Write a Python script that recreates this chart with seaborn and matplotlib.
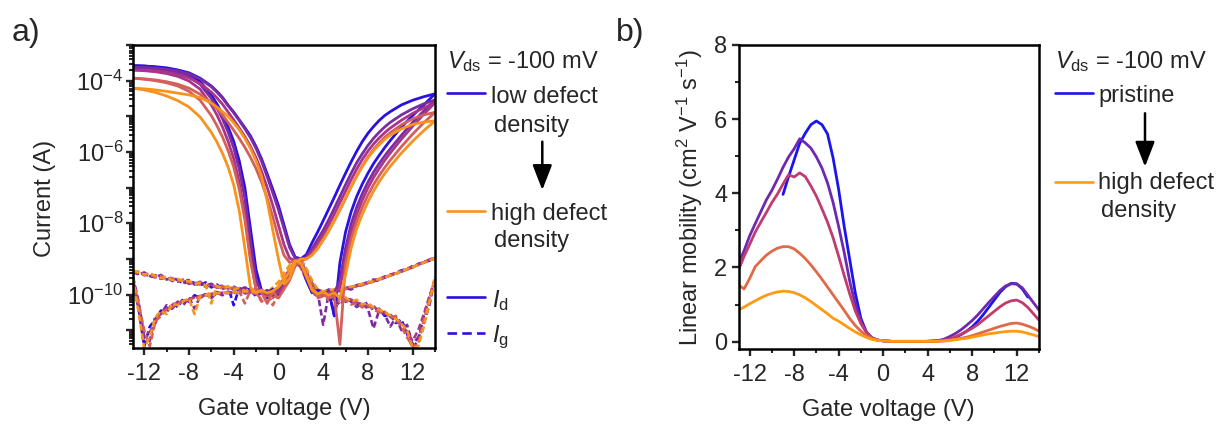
import numpy as np
import matplotlib
matplotlib.use("Agg")
import matplotlib.pyplot as plt
import seaborn as sns
from matplotlib.lines import Line2D
from matplotlib.ticker import LogLocator, FuncFormatter, MultipleLocator, NullFormatter

# ---------------- data ----------------
# gate voltage grid for drain current (log10 of A)
vg_id = [-13, -12, -11, -10, -9, -8, -7, -6, -5.5, -5, -4.5, -4, -3.5, -3, -2.5, -2,
         -1.5, -1, -0.5, 0, 0.5, 1, 1.5, 2, 2.5, 3, 3.5, 4, 4.5, 5,
         5.5, 6, 6.5, 7, 7.5, 8, 8.5, 9, 9.5, 10, 11, 12, 13, 14]

# sweep with steep threshold (log10 Id)
id_sweep_a_1 = [-3.58, -3.59, -3.62, -3.66, -3.72, -3.83, -4.02, -4.40, -4.65, -4.95, -5.30, -5.70, -6.25, -7.00, -8.15, -9.30,
                -9.90, -9.95, -9.85, -10.05, -9.80, -9.55, -9.15, -9.10, -9.60, -9.95, -9.88, -10.00, -9.92, -10.60,
                -9.10, -8.25, -7.68, -7.25, -6.90, -6.60, -6.33, -6.10, -5.88, -5.68, -5.30, -4.98, -4.68, -4.37]
id_sweep_a_2 = [-3.63, -3.64, -3.67, -3.71, -3.78, -3.90, -4.10, -4.50, -4.76, -5.07, -5.44, -5.88, -6.48, -7.30, -8.50, -9.60,
                -9.95, -9.88, -10.02, -9.90, -9.72, -9.45, -9.10, -9.18, -9.55, -9.90, -10.05, -9.94, -10.08, -9.95,
                -9.60, -8.70, -8.02, -7.55, -7.17, -6.85, -6.57, -6.33, -6.11, -5.91, -5.53, -5.17, -4.85, -4.54]
id_sweep_a_3 = [-3.70, -3.72, -3.75, -3.80, -3.88, -4.01, -4.24, -4.68, -4.96, -5.30, -5.70, -6.18, -6.85, -7.75, -8.95, -9.85,
                -9.92, -10.00, -9.90, -9.96, -9.75, -9.50, -9.12, -9.20, -9.50, -9.85, -9.96, -10.02, -9.94, -10.00,
                -9.80, -9.00, -8.25, -7.75, -7.35, -7.01, -6.72, -6.47, -6.24, -6.03, -5.64, -5.28, -4.94, -4.62]
id_sweep_a_4 = [-3.93, -3.96, -4.00, -4.06, -4.15, -4.30, -4.55, -4.98, -5.26, -5.58, -5.96, -6.42, -7.05, -7.90, -9.05, -9.85,
                -9.95, -10.25, -9.92, -10.10, -9.85, -9.60, -9.20, -9.10, -9.45, -9.88, -10.05, -9.98, -10.10, -10.05,
                -11.40, -9.15, -8.45, -7.95, -7.55, -7.21, -6.92, -6.67, -6.44, -6.23, -5.85, -5.50, -5.18, -4.89]
id_sweep_a_5 = [-4.21, -4.26, -4.33, -4.43, -4.56, -4.74, -5.02, -5.45, -5.72, -6.04, -6.42, -6.92, -7.65, -8.70, -9.80, -9.95,
                -9.88, -9.96, -9.90, -9.78, -9.60, -9.35, -9.05, -9.12, -9.48, -9.85, -9.98, -9.92, -10.02, -9.95,
                -10.10, -9.45, -8.70, -8.15, -7.75, -7.40, -7.10, -6.84, -6.61, -6.40, -6.03, -5.70, -5.40, -5.13]

# sweep with gradual (V-shaped) behaviour (log10 Id)
id_sweep_b_1 = [-3.58, -3.59, -3.61, -3.64, -3.70, -3.78, -3.93, -4.15, -4.30, -4.47, -4.69, -4.88, -5.10, -5.32, -5.55, -5.85,
                -6.20, -6.62, -7.05, -7.50, -8.05, -8.60, -8.95, -9.00, -8.88, -8.55, -8.25, -7.93, -7.60, -7.27,
                -6.93, -6.60, -6.28, -5.98, -5.71, -5.48, -5.29, -5.12, -4.98, -4.87, -4.68, -4.55, -4.45, -4.37]
id_sweep_b_2 = [-3.62, -3.63, -3.65, -3.68, -3.73, -3.81, -3.95, -4.17, -4.32, -4.49, -4.70, -4.90, -5.12, -5.35, -5.60, -5.90,
                -6.27, -6.70, -7.15, -7.62, -8.15, -8.68, -8.98, -9.02, -8.95, -8.72, -8.46, -8.20, -7.90, -7.58,
                -7.25, -6.92, -6.60, -6.30, -6.05, -5.82, -5.62, -5.45, -5.30, -5.17, -4.96, -4.79, -4.65, -4.54]
id_sweep_b_3 = [-3.70, -3.71, -3.73, -3.77, -3.83, -3.92, -4.08, -4.32, -4.48, -4.66, -4.88, -5.10, -5.33, -5.57, -5.84, -6.16,
                -6.55, -7.00, -7.50, -8.05, -8.60, -8.98, -9.05, -9.03, -8.98, -8.80, -8.57, -8.32, -8.04, -7.74,
                -7.42, -7.10, -6.78, -6.48, -6.21, -5.98, -5.78, -5.61, -5.46, -5.33, -5.11, -4.92, -4.76, -4.62]
id_sweep_b_4 = [-3.93, -3.95, -3.98, -4.03, -4.10, -4.21, -4.38, -4.62, -4.78, -4.96, -5.17, -5.39, -5.62, -5.87, -6.15, -6.47,
                -6.85, -7.30, -7.82, -8.40, -8.90, -9.10, -9.05, -9.05, -9.00, -8.88, -8.68, -8.45, -8.20, -7.92,
                -7.62, -7.30, -6.98, -6.67, -6.39, -6.14, -5.93, -5.75, -5.59, -5.46, -5.24, -5.07, -4.96, -4.89]
id_sweep_b_5 = [-4.21, -4.23, -4.26, -4.30, -4.35, -4.40, -4.47, -4.63, -4.74, -4.87, -5.00, -5.18, -5.38, -5.62, -5.90, -6.25,
                -6.70, -7.38, -8.20, -9.00, -9.70, -9.55, -9.10, -9.00, -9.00, -8.90, -8.72, -8.48, -8.22, -7.93,
                -7.62, -7.30, -6.98, -6.68, -6.41, -6.17, -5.97, -5.80, -5.65, -5.53, -5.35, -5.23, -5.16, -5.13]

# gate voltage grid for gate leakage and mobility
vg_fine = [-13, -12.5, -12, -11.5, -11, -10.5, -10, -9.5, -9, -8.5, -8, -7.5, -7, -6.5, -6, -5.5,
           -5, -4.5, -4, -3.5, -3, -2.5, -2, -1.5, -1, -0.5, 0, 0.5, 1, 1.5, 2, 2.5,
           3, 3.5, 4, 4.5, 5, 5.5, 6, 6.5, 7, 7.5, 8, 8.5, 9, 9.5, 10, 10.5,
           11, 11.5, 12, 12.5, 13, 13.5, 14]

# gate leakage current (log10 of A), two sweeps per device
ig_sweep_a_1 = [-9.38, -9.42, -9.40, -9.50, -9.46, -9.55, -9.50, -9.62, -9.58, -9.70, -9.60, -9.68, -9.75, -9.66, -9.80, -9.72,
                -9.85, -9.78, -10.30, -9.82, -9.88, -9.84, -9.95, -9.88, -9.96, -9.85, -9.90, -9.62, -9.40, -9.12, -9.20, -9.50,
                -9.80, -9.95, -10.02, -9.98, -10.15, -10.05, -10.20, -10.12, -10.25, -10.30, -10.22, -10.45, -10.40, -10.60, -10.55, -10.80,
                -10.70, -11.10, -11.50, -11.30, -10.60, -10.10, -9.60]
ig_sweep_b_1 = [-9.60, -10.40, -11.45, -10.90, -10.70, -10.45, -10.50, -10.25, -10.35, -10.12, -10.20, -10.02, -10.10, -9.98, -10.05, -9.93,
                -10.00, -9.92, -9.96, -9.90, -9.95, -9.88, -10.05, -9.95, -10.10, -9.98, -9.88, -9.66, -9.38, -9.15, -9.05, -9.40,
                -9.72, -9.90, -9.95, -9.86, -10.60, -9.85, -9.80, -9.84, -9.74, -9.70, -9.66, -9.58, -9.62, -9.50, -9.46, -9.40,
                -9.32, -9.30, -9.20, -9.16, -9.08, -9.05, -8.98]
ig_sweep_a_2 = [-9.33, -9.45, -9.38, -9.48, -9.52, -9.45, -9.58, -9.52, -9.60, -9.66, -9.58, -9.72, -9.65, -9.74, -9.70, -9.80,
                -9.74, -9.83, -9.78, -9.86, -9.80, -9.90, -9.86, -9.94, -9.90, -10.05, -9.78, -9.55, -9.30, -9.08, -9.18, -9.55,
                -9.82, -9.92, -10.85, -9.96, -10.12, -10.30, -10.10, -10.20, -10.35, -10.25, -10.40, -10.95, -10.45, -10.55, -10.90, -10.65,
                -11.00, -10.85, -11.40, -11.20, -10.80, -10.30, -9.52]
ig_sweep_b_2 = [-9.50, -10.20, -11.20, -11.30, -10.60, -10.55, -10.30, -10.40, -10.20, -10.30, -10.08, -10.40, -10.05, -10.00, -10.10, -9.95,
                -10.02, -9.94, -9.98, -9.92, -9.97, -9.93, -10.00, -9.96, -9.98, -10.05, -9.82, -9.60, -9.42, -9.18, -9.02, -9.30,
                -9.65, -9.88, -9.94, -9.90, -9.87, -9.90, -9.82, -9.86, -9.76, -9.72, -9.68, -9.62, -9.57, -9.53, -9.45, -9.41,
                -9.36, -9.28, -9.24, -9.14, -9.10, -9.02, -8.96]
ig_sweep_a_3 = [-9.40, -9.36, -9.46, -9.44, -9.50, -9.56, -9.52, -9.60, -9.64, -9.60, -9.70, -9.66, -9.72, -9.78, -9.74, -9.80,
                -9.84, -9.79, -9.86, -9.84, -9.90, -9.87, -9.92, -9.90, -9.98, -9.92, -9.85, -9.58, -9.28, -9.10, -9.22, -9.48,
                -9.78, -9.96, -10.00, -10.06, -10.02, -10.12, -10.18, -10.14, -10.22, -10.28, -10.35, -10.32, -10.48, -10.50, -10.62, -10.75,
                -10.85, -11.05, -11.30, -11.00, -10.55, -10.05, -9.58]
ig_sweep_b_3 = [-9.62, -10.35, -11.10, -11.05, -10.80, -10.48, -10.40, -10.30, -10.22, -10.18, -10.12, -10.08, -10.04, -10.02, -9.98, -9.97,
                -9.95, -9.96, -9.93, -9.95, -9.92, -9.94, -9.96, -9.93, -10.02, -9.96, -9.86, -9.64, -9.45, -9.12, -9.08, -9.38,
                -9.68, -9.86, -9.92, -9.88, -9.86, -9.84, -9.83, -9.78, -9.76, -9.70, -9.67, -9.60, -9.56, -9.50, -9.44, -9.40,
                -9.34, -9.27, -9.22, -9.15, -9.10, -9.03, -8.98]
ig_sweep_a_4 = [-9.36, -9.40, -9.44, -9.42, -9.52, -9.48, -9.56, -9.54, -9.62, -9.58, -9.65, -9.70, -9.64, -9.75, -9.72, -9.80,
                -9.76, -9.84, -9.80, -9.90, -10.25, -9.88, -9.95, -10.15, -9.92, -10.30, -9.95, -9.70, -9.35, -9.06, -9.25, -9.60,
                -9.90, -10.10, -10.05, -10.15, -10.10, -10.22, -10.16, -10.28, -10.24, -10.36, -10.30, -10.42, -10.50, -10.48, -10.65, -10.60,
                -10.90, -11.20, -11.45, -11.40, -10.70, -10.15, -9.55]
ig_sweep_b_4 = [-9.58, -10.25, -11.00, -11.45, -10.75, -10.60, -10.42, -10.35, -10.25, -10.20, -10.15, -10.10, -10.06, -10.02, -10.00, -9.97,
                -9.96, -9.95, -9.94, -9.96, -9.93, -9.95, -9.97, -10.20, -10.00, -10.10, -9.90, -9.70, -9.48, -9.20, -9.10, -9.42,
                -9.72, -9.90, -9.96, -9.92, -9.90, -9.86, -9.85, -9.80, -9.77, -9.74, -9.68, -9.64, -9.58, -9.52, -9.47, -9.42,
                -9.35, -9.30, -9.23, -9.17, -9.11, -9.05, -8.99]
ig_sweep_a_5 = [-9.32, -9.38, -9.44, -9.40, -9.48, -9.54, -9.50, -9.60, -9.56, -9.64, -9.62, -9.70, -9.68, -9.74, -10.25, -9.76,
                -9.82, -9.78, -9.85, -9.82, -9.90, -9.86, -9.92, -9.88, -9.95, -9.80, -9.65, -9.40, -9.18, -9.00, -9.25, -9.55,
                -9.85, -9.98, -9.95, -10.05, -10.00, -10.12, -10.08, -10.20, -10.15, -10.28, -10.24, -10.36, -10.42, -10.50, -10.58, -10.68,
                -10.82, -11.00, -11.50, -11.45, -10.90, -10.20, -9.50]
ig_sweep_b_5 = [-9.52, -10.50, -11.50, -11.20, -10.65, -10.45, -10.55, -10.25, -10.30, -10.18, -10.12, -10.55, -10.05, -10.02, -9.98, -9.96,
                -9.94, -9.95, -9.92, -9.94, -9.90, -9.92, -9.94, -9.90, -9.96, -9.92, -9.80, -9.55, -9.30, -9.08, -9.00, -9.28,
                -9.60, -9.85, -9.92, -9.88, -9.86, -9.84, -9.80, -9.78, -9.74, -9.70, -9.66, -9.62, -9.56, -9.52, -9.46, -9.41,
                -9.35, -9.29, -9.23, -9.17, -9.10, -9.04, -8.97]

# linear mobility (cm2 V-1 s-1)
nan = float("nan")
mu_pristine = [nan, nan, nan, nan, nan, nan, nan, nan,
               3.97, 4.45, 4.90, 5.35, 5.62, 5.85, 5.95, 5.85, 5.60, 4.95, 4.10, 3.10, 2.20, 1.30, 0.62, 0.25, 0.09, 0.04, 0.02, 0.01,
               0.0, 0.0, 0.0, 0.0, 0.0, 0.0, 0.005, 0.01, 0.02,
               0.03, 0.06, 0.11, 0.19, 0.28, 0.40, 0.55, 0.73, 0.93, 1.13, 1.33, 1.48, 1.57, 1.56, 1.42, 1.20,
               nan, nan]
mu_defect_1 = [2.11, 2.45, 2.85, 3.18, 3.50, 3.82, 4.08, 4.38, 4.70, 4.98, 5.20, 5.47, 5.36, 5.22, 4.98, 4.68, 4.28, 3.75, 3.10, 2.40,
               1.62, 1.00, 0.55, 0.25, 0.10, 0.04, 0.02, 0.01,
               0.0, 0.0, 0.0, 0.0, 0.0, 0.0, 0.01, 0.02,
               0.03, 0.07, 0.14, 0.22, 0.32, 0.44, 0.57, 0.72, 0.89, 1.06, 1.22, 1.38, 1.50, 1.56, 1.55, 1.45, 1.25, 1.05, 0.85]
mu_defect_2 = [1.93, 2.30, 2.62, 2.95, 3.22, 3.48, 3.75, 3.98, 4.25, 4.50, 4.44, 4.55, 4.45, 4.20, 3.92, 3.58, 3.22, 2.80, 2.30, 1.78,
               1.28, 0.82, 0.48, 0.24, 0.10, 0.04, 0.02, 0.01,
               0.0, 0.0, 0.0, 0.0, 0.0, 0.0, 0.005, 0.01,
               0.02, 0.04, 0.08, 0.13, 0.20, 0.28, 0.36, 0.46, 0.58, 0.70, 0.82, 0.94, 1.04, 1.10, 1.12, 1.05, 0.92, 0.75, 0.58]
mu_defect_3 = [1.53, 1.42, 1.70, 2.02, 2.18, 2.33, 2.44, 2.52, 2.56, 2.56, 2.50, 2.38, 2.24, 2.07, 1.88, 1.68, 1.47, 1.26, 1.05, 0.84,
               0.62, 0.43, 0.28, 0.16, 0.08, 0.04, 0.02, 0.01,
               0.0, 0.0, 0.0, 0.0, 0.0, 0.0, 0.0, 0.005,
               0.01, 0.02, 0.04, 0.06, 0.09, 0.12, 0.16, 0.21, 0.26, 0.31, 0.36, 0.41, 0.45, 0.49, 0.50, 0.47, 0.42, 0.36, 0.28]
mu_defect_4 = [0.85, 0.93, 1.02, 1.10, 1.18, 1.25, 1.30, 1.34, 1.36, 1.35, 1.32, 1.26, 1.18, 1.08, 0.97, 0.86, 0.75, 0.63, 0.55, 0.45,
               0.35, 0.26, 0.18, 0.11, 0.06, 0.03, 0.02, 0.01,
               0.01, 0.01, 0.01, 0.01, 0.01, 0.01, 0.01, 0.01,
               0.01, 0.02, 0.03, 0.05, 0.07, 0.09, 0.12, 0.15, 0.18, 0.21, 0.23, 0.25, 0.27, 0.28, 0.28, 0.26, 0.22, 0.18, 0.13]

x_ticks = [-12, -8, -4, 0, 4, 8, 12]
mu_ticks = [0, 2, 4, 6, 8]

colors_a = ["#2b10e2", "#7b2ca2", "#a8358a", "#d3605c", "#f7931e"]
colors_b = ["#1c14f0", "#6e29b0", "#c13b70", "#e06a48", "#ff9a12"]

# ---------------- style ----------------
sns.set_style("ticks")
plt.rcParams.update({
    "font.size": 17,
    "axes.linewidth": 1.8,
    "xtick.major.width": 1.7, "ytick.major.width": 1.7,
    "xtick.minor.width": 1.5, "ytick.minor.width": 1.5,
    "xtick.major.size": 5, "ytick.major.size": 5,
    "xtick.minor.size": 3, "ytick.minor.size": 3,
    "xtick.direction": "out", "ytick.direction": "out",
    "xtick.labelsize": 17, "ytick.labelsize": 17,
    "mathtext.fontset": "custom",
    "mathtext.rm": "Liberation Sans",
    "mathtext.it": "Liberation Sans:italic",
    "mathtext.default": "regular",
    "axes.edgecolor": "black",
})
plt.rcParams["font.family"] = ["Liberation Sans", "DejaVu Sans"]

W, H = 1222, 426
fig = plt.figure(figsize=(W / 100, H / 100), dpi=100)


def fx(x):
    return x / W


def fy(y):
    return 1 - y / H


axa = fig.add_axes([fx(133), fy(348), (435 - 133) / W, (348 - 45) / H])
axb = fig.add_axes([fx(738.5), fy(349), (1039 - 738.5) / W, (349 - 45) / H])

vg_id_arr = np.array(vg_id)
vg_f = np.array(vg_fine)
sweeps_a = [id_sweep_a_1, id_sweep_a_2, id_sweep_a_3, id_sweep_a_4, id_sweep_a_5]
sweeps_b = [id_sweep_b_1, id_sweep_b_2, id_sweep_b_3, id_sweep_b_4, id_sweep_b_5]
gates_a = [ig_sweep_a_1, ig_sweep_a_2, ig_sweep_a_3, ig_sweep_a_4, ig_sweep_a_5]
gates_b = [ig_sweep_b_1, ig_sweep_b_2, ig_sweep_b_3, ig_sweep_b_4, ig_sweep_b_5]

# ---------------- panel a ----------------
for k in range(5):
    c = colors_a[k]
    for g in (gates_a[k], gates_b[k]):
        sns.lineplot(x=vg_f, y=10.0 ** np.array(g), ax=axa, color=c, lw=1.9,
                     linestyle=(0, (2.4, 1.2)), sort=False, estimator=None)
for k in range(5):
    c = colors_a[k]
    for s in (sweeps_a[k], sweeps_b[k]):
        sns.lineplot(x=vg_id_arr, y=10.0 ** np.array(s), ax=axa, color=c, lw=2.0,
                     sort=False, estimator=None)

axa.set_yscale("log")
axa.set_xlim(-13, 14)
axa.set_ylim(10 ** -11.5, 1e-3)
axa.set_xticks(x_ticks)
axa.set_xticklabels([str(v) for v in x_ticks])
axa.xaxis.set_minor_locator(MultipleLocator(2))
axa.yaxis.set_major_locator(LogLocator(base=10, numticks=30))
axa.yaxis.set_minor_locator(LogLocator(base=10, subs=np.arange(2, 10), numticks=30))
axa.yaxis.set_minor_formatter(NullFormatter())


def log_fmt(v, pos):
    e = int(round(np.log10(v)))
    return r"$10^{%d}$" % e if e % 2 == 0 else ""


axa.yaxis.set_major_formatter(FuncFormatter(log_fmt))
axa.set_xlabel("Gate voltage (V)", fontsize=17)
axa.set_ylabel("Current (A)", fontsize=17)
axa.xaxis.set_label_coords(0.5, -0.165)
axa.yaxis.set_label_coords(-0.255, 0.493)
axa.tick_params(axis="both", which="both", top=False, right=False)
axa.tick_params(axis="y", which="major", pad=2)
axa.tick_params(axis="x", which="major", pad=6)

# ---------------- panel b ----------------
mus = [mu_pristine, mu_defect_1, mu_defect_2, mu_defect_3, mu_defect_4]
for k in range(5):
    sns.lineplot(x=vg_f, y=np.array(mus[k]), ax=axb, color=colors_b[k], lw=2.0,
                 sort=False, estimator=None)
axb.set_xlim(-13, 14)
axb.set_ylim(-0.2, 8)
axb.set_xticks(x_ticks)
axb.set_xticklabels([str(v) for v in x_ticks])
axb.xaxis.set_minor_locator(MultipleLocator(2))
axb.set_yticks(mu_ticks)
axb.set_yticklabels([str(v) for v in mu_ticks])
axb.yaxis.set_minor_locator(MultipleLocator(1))
axb.set_xlabel("Gate voltage (V)", fontsize=17)
axb.set_ylabel(r"Linear mobility (cm$^{2}$ V$^{-1}$ s$^{-1}$)", fontsize=17)
axb.xaxis.set_label_coords(0.5, -0.165)
axb.yaxis.set_label_coords(-0.11, 0.497)
axb.tick_params(axis="both", which="both", top=False, right=False)
axb.tick_params(axis="y", which="major", pad=3)
axb.tick_params(axis="x", which="major", pad=6)

for ax in (axa, axb):
    for sp in ax.spines.values():
        sp.set_visible(True)
        sp.set_linewidth(1.8)

# ---------------- legends / annotations ----------------
fs = 17
fig.text(fx(12), fy(41), "a)", fontsize=23, va="baseline", ha="left")
fig.text(fx(616), fy(41), "b)", fontsize=23, va="baseline", ha="left")

# panel a legend
fig.text(fx(447), fy(68.3), r"$\mathit{V}_{\mathrm{ds}}$ = -100 mV", fontsize=fs, va="baseline", ha="left")
fig.add_artist(Line2D([fx(447), fx(485)], [fy(93.3), fy(93.3)], color=colors_a[0], lw=1.9))
fig.text(fx(491), fy(102.7), "low defect", fontsize=fs, va="baseline", ha="left")
fig.text(fx(494), fy(131.7), "density", fontsize=fs, va="baseline", ha="left")
fig.add_artist(Line2D([fx(447), fx(485)], [fy(211), fy(211)], color=colors_a[4], lw=1.9))
fig.text(fx(491), fy(220), "high defect", fontsize=fs, va="baseline", ha="left")
fig.text(fx(494), fy(247), "density", fontsize=fs, va="baseline", ha="left")
fig.add_artist(Line2D([fx(447), fx(485)], [fy(297.3), fy(297.3)], color=colors_a[0], lw=1.9))
fig.text(fx(492), fy(307), r"$\mathit{I}_{\mathrm{d}}$", fontsize=fs, va="baseline", ha="left")
fig.add_artist(Line2D([fx(447), fx(485)], [fy(332.7), fy(332.7)], color=colors_a[0], lw=1.9,
                      linestyle=(0, (3.6, 2.0))))
fig.text(fx(492), fy(342), r"$\mathit{I}_{\mathrm{g}}$", fontsize=fs, va="baseline", ha="left")
axa.annotate("", xy=(fx(542.3), fy(190)), xytext=(fx(542.3), fy(141.7)),
             xycoords="figure fraction", textcoords="figure fraction",
             arrowprops=dict(arrowstyle="-|>,head_length=0.9,head_width=0.35", lw=1.8, color="black",
                             shrinkA=0, shrinkB=0),
             annotation_clip=False)

# panel b legend
fig.text(fx(1055), fy(68.3), r"$\mathit{V}_{\mathrm{ds}}$ = -100 mV", fontsize=fs, va="baseline", ha="left")
fig.add_artist(Line2D([fx(1055), fx(1092.7)], [fy(92.7), fy(92.7)], color=colors_b[0], lw=1.9))
fig.text(fx(1098), fy(101.7), "pristine", fontsize=fs, va="baseline", ha="left")
fig.add_artist(Line2D([fx(1055), fx(1092.7)], [fy(181.7), fy(181.7)], color=colors_b[4], lw=1.9))
fig.text(fx(1098), fy(188.5), "high defect", fontsize=fs, va="baseline", ha="left")
fig.text(fx(1101), fy(216.7), "density", fontsize=fs, va="baseline", ha="left")
axb.annotate("", xy=(fx(1145), fy(166.7)), xytext=(fx(1145), fy(113.3)),
             xycoords="figure fraction", textcoords="figure fraction",
             arrowprops=dict(arrowstyle="-|>,head_length=0.9,head_width=0.35", lw=1.8, color="black",
                             shrinkA=0, shrinkB=0),
             annotation_clip=False)

fig.savefig("out.png", dpi=100)
